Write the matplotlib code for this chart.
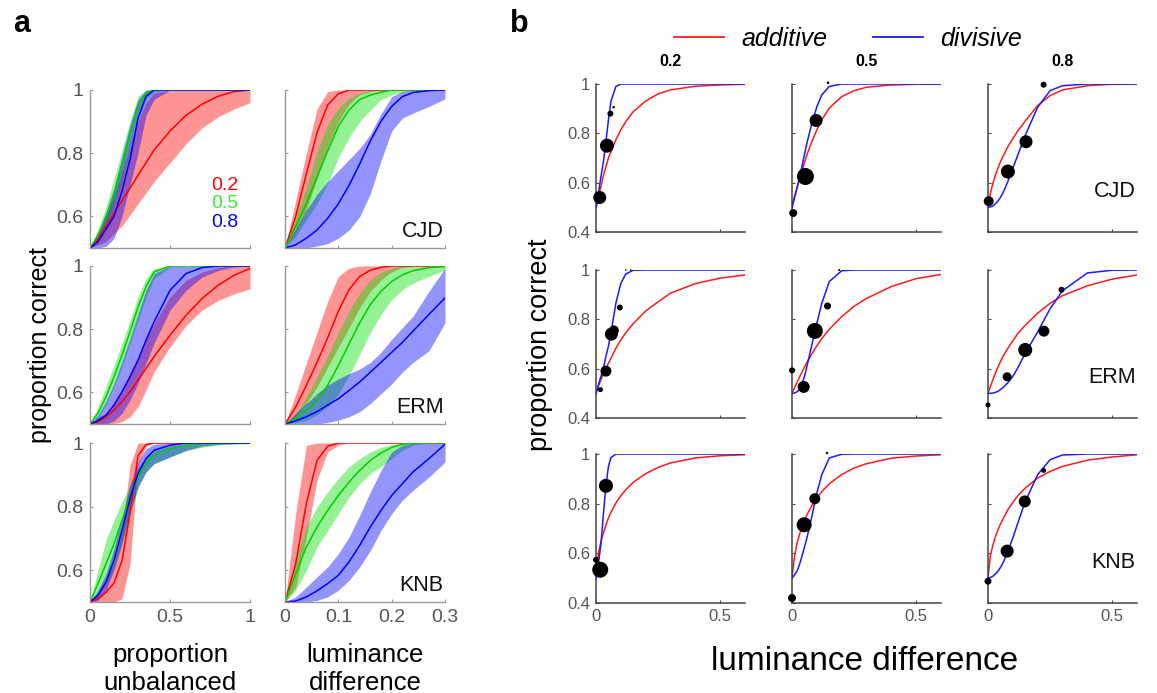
import numpy as np
import matplotlib
matplotlib.use("Agg")
import matplotlib.pyplot as plt
from matplotlib.lines import Line2D

plt.rcParams['font.family'] = ['Liberation Sans', 'DejaVu Sans']

# ---------------- panel a data ----------------
# rows in each list: [0.2 (red), 0.5 (green), 0.8 (blue)]
conds = ['0.2', '0.5', '0.8']
subjects = ['CJD', 'ERM', 'KNB']

x_unb = [0, .05, .1, .15, .2, .25, .3, .35, .4, .5, .6, .7, .8, .9, 1.0]
x_lum = [0, .02, .04, .06, .08, .10, .12, .14, .16, .18, .20, .22, .24, .27, .30]

cjd_unb_mean = [
    [.5, .53, .57, .61, .65, .69, .73, .77, .81, .87, .92, .955, .98, .995, 1],
    [.5, .54, .60, .67, .76, .86, .95, .99, 1, 1, 1, 1, 1, 1, 1],
    [.5, .52, .56, .60, .68, .78, .91, .98, 1, 1, 1, 1, 1, 1, 1]]
cjd_unb_lo = [
    [.5, .51, .52, .545, .57, .605, .64, .675, .71, .77, .83, .88, .915, .94, .96],
    [.5, .52, .57, .63, .71, .81, .91, .97, .995, 1, 1, 1, 1, 1, 1],
    [.5, .50, .505, .53, .60, .70, .80, .92, .97, 1, 1, 1, 1, 1, 1]]
cjd_unb_hi = [
    [.5, .55, .60, .665, .74, .82, .90, .96, .99, 1, 1, 1, 1, 1, 1],
    [.5, .56, .63, .72, .81, .90, .98, 1, 1, 1, 1, 1, 1, 1, 1],
    [.5, .55, .61, .69, .79, .89, .97, 1, 1, 1, 1, 1, 1, 1, 1]]

cjd_lum_mean = [
    [.5, .60, .735, .865, .953, .988, 1, 1, 1, 1, 1, 1, 1, 1, 1],
    [.5, .568, .64, .724, .807, .885, .937, .97, .984, .993, 1, 1, 1, 1, 1],
    [.5, .51, .531, .557, .594, .64, .698, .766, .839, .901, .948, .979, .992, .998, 1]]
cjd_lum_lo = [
    [.5, .55, .62, .72, .82, .90, .955, .985, .995, 1, 1, 1, 1, 1, 1],
    [.5, .536, .589, .64, .703, .786, .849, .90, .937, .97, .984, .993, 1, 1, 1],
    [.5, .50, .50, .506, .514, .531, .557, .599, .672, .776, .87, .911, .927, .948, .972]]
cjd_lum_hi = [
    [.5, .65, .80, .94, .995, 1, 1, 1, 1, 1, 1, 1, 1, 1, 1],
    [.5, .60, .693, .807, .89, .943, .974, .99, 1, 1, 1, 1, 1, 1, 1],
    [.5, .56, .62, .67, .71, .745, .78, .815, .86, .925, .979, .995, 1, 1, 1]]

erm_unb_mean = [
    [.5, .507, .523, .544, .571, .602, .639, .676, .713, .781, .844, .897, .939, .971, .992],
    [.5, .534, .586, .649, .718, .792, .87, .934, .981, 1, 1, 1, 1, 1, 1],
    [.5, .511, .528, .56, .602, .649, .702, .765, .823, .923, .976, .995, 1, 1, 1]]
erm_unb_lo = [
    [.5, .5, .5, .502, .507, .523, .555, .607, .665, .744, .812, .86, .891, .912, .928],
    [.5, .518, .56, .618, .681, .755, .828, .902, .96, .997, 1, 1, 1, 1, 1],
    [.5, .5, .5, .51, .534, .576, .628, .692, .755, .86, .923, .965, .986, .997, 1]]
erm_unb_hi = [
    [.5, .52, .534, .565, .607, .66, .713, .77, .818, .902, .955, .981, .995, 1, 1],
    [.5, .555, .618, .686, .755, .828, .902, .96, .992, 1, 1, 1, 1, 1, 1],
    [.5, .528, .571, .628, .697, .771, .849, .923, .976, 1, 1, 1, 1, 1, 1]]

erm_lum_mean = [
    [.5, .554, .622, .695, .773, .857, .925, .967, .987, .996, 1, 1, 1, 1, 1],
    [.5, .518, .544, .575, .622, .685, .753, .82, .878, .92, .951, .972, .985, .995, .998],
    [.5, .51, .523, .539, .56, .58, .606, .633, .664, .695, .727, .758, .794, .847, .899]]
erm_lum_lo = [
    [.5, .523, .565, .617, .68, .742, .805, .867, .92, .956, .982, .995, 1, 1, 1],
    [.5, .504, .512, .528, .554, .596, .653, .721, .789, .847, .894, .925, .946, .967, .987],
    [.5, .5, .5, .5, .505, .512, .523, .539, .565, .596, .627, .664, .695, .732, .82]]
erm_lum_hi = [
    [.5, .594, .692, .79, .888, .967, .993, 1, 1, 1, 1, 1, 1, 1, 1],
    [.5, .533, .586, .648, .716, .789, .857, .914, .956, .98, .993, 1, 1, 1, 1],
    [.5, .533, .565, .596, .622, .643, .659, .674, .695, .727, .768, .805, .841, .92, .993]]

knb_unb_mean = [
    [.5, .51, .53, .56, .63, .78, .96, .995, 1, 1, 1, 1, 1, 1, 1],
    [.5, .558, .62, .683, .757, .83, .893, .935, .961, .982, .993, .998, 1, 1, 1],
    [.5, .521, .563, .631, .725, .825, .904, .951, .977, .993, 1, 1, 1, 1, 1]]
knb_unb_lo = [
    [.5, .5, .5, .5, .51, .62, .93, .99, 1, 1, 1, 1, 1, 1, 1],
    [.5, .521, .558, .61, .689, .778, .856, .909, .935, .956, .975, .987, .993, .996, .998],
    [.5, .505, .537, .60, .684, .784, .862, .909, .935, .956, .977, .99, .996, .998, 1]]
knb_unb_hi = [
    [.5, .53, .57, .62, .72, .93, 1, 1, 1, 1, 1, 1, 1, 1, 1],
    [.5, .60, .694, .757, .814, .867, .925, .956, .975, .99, .996, 1, 1, 1, 1],
    [.5, .537, .589, .668, .767, .867, .94, .982, .996, 1, 1, 1, 1, 1, 1]]

knb_lum_mean = [
    [.5, .62, .81, .945, .99, 1, 1, 1, 1, 1, 1, 1, 1, 1, 1],
    [.5, .589, .673, .736, .788, .835, .877, .914, .945, .969, .986, .996, 1, 1, 1],
    [.5, .503, .516, .535, .558, .584, .626, .678, .736, .788, .835, .872, .909, .951, .996]]
knb_lum_lo = [
    [.5, .547, .704, .883, .972, .993, 1, 1, 1, 1, 1, 1, 1, 1, 1],
    [.5, .537, .60, .673, .725, .778, .83, .872, .904, .925, .951, .977, .993, 1, 1],
    [.5, .5, .5, .505, .516, .537, .568, .61, .662, .725, .778, .82, .851, .893, .94]]
knb_lum_hi = [
    [.5, .778, .993, 1, 1, 1, 1, 1, 1, 1, 1, 1, 1, 1, 1],
    [.5, .642, .736, .799, .846, .888, .925, .951, .972, .986, .995, 1, 1, 1, 1],
    [.5, .516, .547, .579, .61, .652, .704, .772, .846, .914, .972, .993, 1, 1, 1]]

# ---------------- panel b data ----------------
x_fit = [0, .01, .02, .03, .04, .05, .06, .08, .1, .12, .15, .2, .25, .3, .4, .5, .6]

# CJD
cjd_02_add = [.5, .545, .585, .63, .666, .70, .726, .774, .814, .848, .888, .931, .96, .976, .991, .996, .999]
cjd_02_div = [.5, .559, .625, .686, .767, .854, .929, .99, 1, 1, 1, 1, 1, 1, 1, 1, 1]
cjd_05_add = [.5, .545, .578, .612, .646, .68, .713, .767, .814, .855, .902, .949, .973, .987, .996, .999, 1]
cjd_05_div = [.5, .538, .578, .618, .666, .713, .76, .841, .908, .956, .99, 1, 1, 1, 1, 1, 1]
cjd_08_add = [.5, .558, .598, .632, .659, .685, .706, .746, .779, .81, .85, .913, .953, .976, .993, .999, 1]
cjd_08_div = [.5, .502, .505, .515, .525, .54, .558, .605, .659, .712, .792, .906, .973, .993, 1, 1, 1]
# ERM
erm_02_add = [.5, .531, .555, .579, .602, .622, .642, .683, .717, .746, .783, .834, .871, .906, .945, .967, .98]
erm_02_div = [.5, .535, .569, .603, .651, .691, .744, .865, .946, .984, .999, 1, 1, 1, 1, 1, 1]
erm_05_add = [.5, .522, .544, .566, .586, .606, .625, .66, .693, .722, .76, .811, .853, .885, .933, .965, .982]
erm_05_div = [.5, .501, .506, .516, .54, .567, .609, .697, .784, .865, .953, .997, 1, 1, 1, 1, 1]
erm_08_add = [.5, .529, .556, .583, .607, .629, .649, .683, .713, .743, .776, .825, .865, .896, .936, .963, .98]
erm_08_div = [.5, .5, .501, .504, .508, .515, .523, .543, .569, .603, .663, .749, .843, .916, .988, .999, 1]
# KNB
knb_02_add = [.5, .601, .648, .682, .715, .742, .765, .803, .832, .856, .886, .921, .946, .964, .984, .993, .997]
knb_02_div = [.5, .56, .64, .76, .872, .95, .985, 1, 1, 1, 1, 1, 1, 1, 1, 1, 1]
knb_05_add = [.5, .587, .641, .675, .706, .733, .755, .792, .823, .849, .88, .917, .944, .961, .983, .992, .997]
knb_05_div = [.5, .513, .528, .555, .588, .625, .662, .749, .843, .917, .984, .999, 1, 1, 1, 1, 1]
knb_08_add = [.5, .595, .634, .668, .695, .718, .738, .776, .805, .832, .863, .903, .93, .95, .975, .988, .997]
knb_08_div = [.5, .503, .508, .517, .528, .543, .561, .608, .662, .722, .809, .917, .977, .996, 1, 1, 1]

# observed data: x, proportion correct, marker radius (px)
cjd_02_x = [0.015, 0.044, 0.058, 0.071]; cjd_02_y = [0.54, 0.75, 0.88, 0.906]; cjd_02_r = [6.5, 7, 3, 1.3]
cjd_05_x = [0.005, 0.054, 0.097, 0.145]; cjd_05_y = [0.477, 0.625, 0.852, 1.005]; cjd_05_r = [4, 8.5, 6.5, 1.3]
cjd_08_x = [0.003, 0.08, 0.153, 0.224]; cjd_08_y = [0.525, 0.645, 0.766, 0.997]; cjd_08_r = [5, 7, 6.5, 3]
erm_02_x = [0.018, 0.04, 0.062, 0.072, 0.096, 0.12, 0.14]
erm_02_y = [0.515, 0.59, 0.74, 0.755, 0.848, 1.0, 1.0]
erm_02_r = [2.5, 5.5, 6.5, 5, 3, 0.8, 0.8]
erm_05_x = [0.0, 0.047, 0.092, 0.143, 0.19]; erm_05_y = [0.593, 0.526, 0.753, 0.854, 1.0]; erm_05_r = [3, 6, 8, 3.5, 1]
erm_08_x = [0.0, 0.077, 0.15, 0.225, 0.296]; erm_08_y = [0.453, 0.567, 0.676, 0.752, 0.92]; erm_08_r = [2.5, 4.5, 7, 5.5, 3]
knb_02_x = [0.0, 0.017, 0.04]; knb_02_y = [0.574, 0.534, 0.872]; knb_02_r = [3, 8, 7]
knb_05_x = [0.0, 0.049, 0.092, 0.141]; knb_05_y = [0.42, 0.715, 0.82, 1.004]; knb_05_r = [4, 7.5, 5.5, 1.2]
knb_08_x = [0.0, 0.077, 0.148, 0.224]; knb_08_y = [0.488, 0.609, 0.809, 0.934]; knb_08_r = [3.5, 6.5, 6, 2.5]

# ---------------- figure ----------------
W, H = 1157, 693
fig = plt.figure(figsize=(W / 100, H / 100), dpi=100)


def px_axes(x0, y0, x1, y1):
    return fig.add_axes([x0 / W, 1 - y1 / H, (x1 - x0) / W, (y1 - y0) / H])


def ftext(x, y, s, **kw):
    return fig.text(x / W, 1 - y / H, s, **kw)


band_cols = ['#ff0000', '#00e000', '#0000ff']
line_cols = ['#ff0000', '#00cc00', '#0000ff']

panel_a = [
    [(x_unb, cjd_unb_mean, cjd_unb_lo, cjd_unb_hi), (x_lum, cjd_lum_mean, cjd_lum_lo, cjd_lum_hi)],
    [(x_unb, erm_unb_mean, erm_unb_lo, erm_unb_hi), (x_lum, erm_lum_mean, erm_lum_lo, erm_lum_hi)],
    [(x_unb, knb_unb_mean, knb_unb_lo, knb_unb_hi), (x_lum, knb_lum_mean, knb_lum_lo, knb_lum_hi)],
]
a_cols = [(90, 250), (285, 445)]
a_rows = [(90, 248), (266, 424), (443, 602)]

for r, (y0, y1) in enumerate(a_rows):
    for c, (x0, x1) in enumerate(a_cols):
        ax = px_axes(x0, y0, x1, y1)
        xs, means, los, his = panel_a[r][c]
        for k in range(3):
            ax.fill_between(xs, los[k], his[k], color=band_cols[k], alpha=0.42, lw=0)
        for k in range(3):
            ax.plot(xs, means[k], color=line_cols[k], lw=1.1)
        ax.set_ylim(0.5, 1)
        if c == 0:
            ax.set_xlim(0, 1)
            ax.set_xticks([0, 0.5, 1])
            ax.set_xticklabels(['0', '0.5', '1'])
            ax.set_yticks([0.6, 0.8, 1])
            ax.set_yticklabels(['0.6', '0.8', '1'])
        else:
            ax.set_xlim(0, 0.3)
            ax.set_xticks([0, 0.1, 0.2, 0.3])
            ax.set_xticklabels(['0', '0.1', '0.2', '0.3'])
            ax.set_yticks([0.6, 0.8, 1])
            ax.set_yticklabels([])
            ax.text(0.99, 0.04, subjects[r], transform=ax.transAxes, ha='right',
                    va='bottom', fontsize=15.5, color='#111')
        if r < 2:
            ax.set_xticklabels([])
        for s in ['top', 'right']:
            ax.spines[s].set_visible(False)
        for s in ['left', 'bottom']:
            ax.spines[s].set_color('#999999')
            ax.spines[s].set_linewidth(1.0)
        ax.tick_params(direction='in', length=2, width=0.8, color='#999999',
                       labelcolor='#555555', labelsize=14, pad=5)

# legend numbers in first panel
for k, (lab, yy) in enumerate(zip(conds, [185, 204, 223])):
    ftext(238, yy, lab, color=band_cols[k] if k != 1 else '#33ee33', fontsize=14,
          ha='right', va='center')

ftext(40, 345, 'proportion correct', rotation=90, fontsize=18, ha='center', va='center')
ftext(170, 669, 'proportion\nunbalanced', fontsize=18.5, ha='center', va='center')
ftext(365, 669, 'luminance\ndifference', fontsize=18.5, ha='center', va='center')

# ---------------- panel b ----------------
fits = [
    [(cjd_02_add, cjd_02_div, cjd_02_x, cjd_02_y, cjd_02_r),
     (cjd_05_add, cjd_05_div, cjd_05_x, cjd_05_y, cjd_05_r),
     (cjd_08_add, cjd_08_div, cjd_08_x, cjd_08_y, cjd_08_r)],
    [(erm_02_add, erm_02_div, erm_02_x, erm_02_y, erm_02_r),
     (erm_05_add, erm_05_div, erm_05_x, erm_05_y, erm_05_r),
     (erm_08_add, erm_08_div, erm_08_x, erm_08_y, erm_08_r)],
    [(knb_02_add, knb_02_div, knb_02_x, knb_02_y, knb_02_r),
     (knb_05_add, knb_05_div, knb_05_x, knb_05_y, knb_05_r),
     (knb_08_add, knb_08_div, knb_08_x, knb_08_y, knb_08_r)],
]
b_cols = [(596, 745), (792, 941), (988, 1137)]
b_rows = [(84, 232), (270, 418), (454, 603)]

for r, (y0, y1) in enumerate(b_rows):
    for c, (x0, x1) in enumerate(b_cols):
        ax = px_axes(x0, y0, x1, y1)
        add, div, dx, dy, dr = fits[r][c]
        ax.plot(x_fit, add, color='#ff1a1a', lw=1.1, zorder=2)
        ax.plot(x_fit, div, color='#1a1aff', lw=1.1, zorder=3)
        sizes = [(2 * rr * 0.72) ** 2 for rr in dr]
        ax.scatter(dx, dy, s=sizes, color='black', zorder=4, clip_on=False, lw=0)
        ax.set_xlim(0, 0.6)
        ax.set_ylim(0.4, 1)
        ax.set_xticks([0, 0.5])
        ax.set_yticks([0.4, 0.6, 0.8, 1])
        ax.set_xticklabels(['0', '0.5'] if r == 2 else [])
        ax.set_yticklabels(['0.4', '0.6', '0.8', '1'] if c == 0 else [])
        for s in ['top', 'right']:
            ax.spines[s].set_visible(False)
        for s in ['left', 'bottom']:
            ax.spines[s].set_color('#444444')
            ax.spines[s].set_linewidth(1.1)
        ax.tick_params(direction='in', length=2, width=0.8, color='#444444',
                       labelcolor='#555555', labelsize=12, pad=4)
        if c == 2:
            ax.text(0.99, 0.2, subjects[r], transform=ax.transAxes, ha='right',
                    va='bottom', fontsize=15.5, color='#111')
        if r == 0:
            ftext((x0 + x1) / 2, 62, conds[c], fontsize=11.5, fontweight='bold',
                  ha='center', va='center')

handles = [Line2D([], [], color='#ff1a1a', lw=1.3), Line2D([], [], color='#1a1aff', lw=1.3)]
fig.legend(handles, ['additive', 'divisive'], loc='center', bbox_to_anchor=(848 / W, 1 - 39 / H),
           ncol=2, frameon=False, handlelength=2.0, handletextpad=0.7, columnspacing=1.8,
           prop={'style': 'italic', 'size': 18})

ftext(540, 345, 'proportion correct', rotation=90, fontsize=19.5, ha='center', va='center')
ftext(865, 662, 'luminance difference', fontsize=24, ha='center', va='center')

ftext(22, 24, 'a', fontsize=22, fontweight='bold', ha='center', va='center')
ftext(519, 24, 'b', fontsize=22, fontweight='bold', ha='center', va='center')

fig.savefig('out.png', dpi=100)
